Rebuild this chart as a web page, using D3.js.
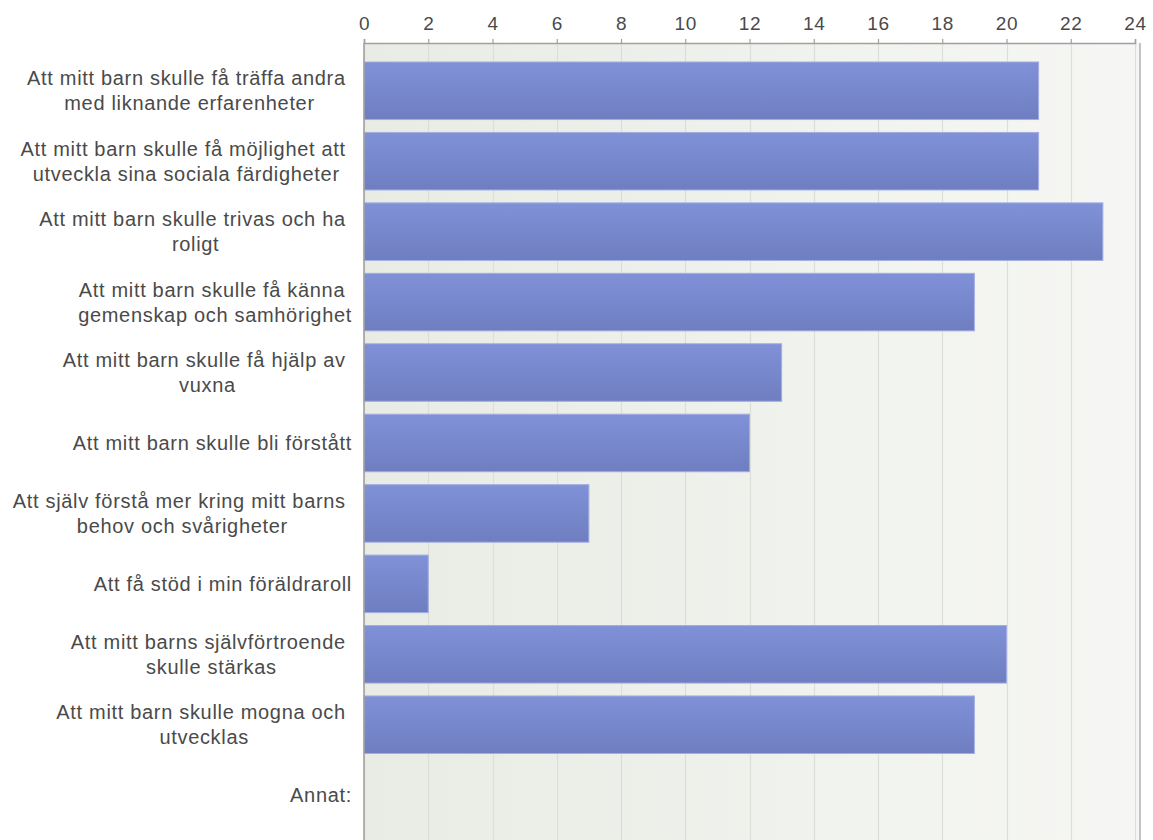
<!DOCTYPE html>
<html>
<head>
<meta charset="utf-8">
<script src="https://cdn.jsdelivr.net/npm/d3@7"></script>
<style>
  body { margin: 0; background: #fff; }
  text { font-family: "Liberation Sans", Arial, sans-serif; fill: #4a4a4a; }
</style>
</head>
<body>
<div id="chart"></div>
<script>

// categories, "\n" marks where the original label wraps
var categories = [
  "Att mitt barn skulle få träffa andra\nmed liknande erfarenheter",
  "Att mitt barn skulle få möjlighet att\nutveckla sina sociala färdigheter",
  "Att mitt barn skulle trivas och ha\nroligt",
  "Att mitt barn skulle få känna\ngemenskap och samhörighet",
  "Att mitt barn skulle få hjälp av\nvuxna",
  "Att mitt barn skulle bli förstått",
  "Att själv förstå mer kring mitt barns\nbehov och svårigheter",
  "Att få stöd i min föräldraroll",
  "Att mitt barns självförtroende\nskulle stärkas",
  "Att mitt barn skulle mogna och\nutvecklas",
  "Annat:"
]
var counts = [21, 21, 23, 19, 13, 12, 7, 2, 20, 19, 0]
var tickValues = [0, 2, 4, 6, 8, 10, 12, 14, 16, 18, 20, 22, 24]

var width = 1153
    height = 840
    plotLeft = 364
    plotRight = 1140
    plotTop = 43
    plotBottom = 850

var svg = d3.select("#chart")
  .append("svg")
    .attr("width", width)
    .attr("height", height)

var defs = svg.append("defs")

var bg = defs.append("linearGradient").attr("id", "bg")
  .attr("x1", 0).attr("x2", 1).attr("y1", 0).attr("y2", 0)
bg.append("stop").attr("offset", "0%").attr("stop-color", "#e8ece4")
bg.append("stop").attr("offset", "100%").attr("stop-color", "#f6f7f4")

var barGrad = defs.append("linearGradient").attr("id", "bar")
  .attr("x1", 0).attr("x2", 0).attr("y1", 0).attr("y2", 1)
barGrad.append("stop").attr("offset", "0%").attr("stop-color", "#8191d8")
barGrad.append("stop").attr("offset", "100%").attr("stop-color", "#6e7ec0")

var x = d3.scaleLinear()
  .domain([0, 24])
  .range([plotLeft, 1135])

var y = d3.scaleBand()
  .domain(categories)
  .range([55.55, 830.4])
  .paddingInner(0.183)
  .paddingOuter(0.0915)

// plot background
svg.append("rect")
  .attr("x", plotLeft)
  .attr("y", plotTop)
  .attr("width", plotRight - plotLeft)
  .attr("height", plotBottom - plotTop)
  .attr("fill", "url(#bg)")

// vertical grid
svg.append("g")
  .selectAll("line")
  .data(tickValues)
  .enter()
  .append("line")
    .attr("x1", function(d){ return Math.round(x(d)) + 0.5 })
    .attr("x2", function(d){ return Math.round(x(d)) + 0.5 })
    .attr("y1", plotTop)
    .attr("y2", plotBottom)
    .attr("stroke", "#dcdfd8")
    .attr("stroke-width", 1.2)

// bars
svg.append("g")
  .selectAll("rect")
  .data(counts)
  .enter()
  .append("rect")
    .attr("x", x(0))
    .attr("y", function(d, i){ return y(categories[i]) })
    .attr("width", function(d){ return x(d) - x(0) })
    .attr("height", y.bandwidth())
    .attr("fill", "url(#bar)")
    .attr("stroke", "#a3ade3")
    .attr("stroke-width", 1)
    .style("display", function(d){ return d > 0 ? null : "none" })

// top axis
var axis = svg.append("g")
  .attr("transform", "translate(0," + plotTop + ")")
  .call(d3.axisTop(x).tickValues(tickValues).tickSize(4).tickPadding(9))

axis.select(".domain")
  .attr("stroke", "#a0a0a0")
  .attr("stroke-width", 1.6)
axis.selectAll(".tick line")
  .attr("stroke", "#a0a0a0")
  .attr("stroke-width", 1.2)
axis.selectAll(".tick text")
  .attr("fill", "#4a4a4a")
  .style("font-size", "19px")
  .style("letter-spacing", "0.6px")
  .style("font-family", "'Liberation Sans', Arial, sans-serif")

// left and right border
svg.append("line")
  .attr("x1", plotLeft).attr("x2", plotLeft)
  .attr("y1", plotTop).attr("y2", plotBottom)
  .attr("stroke", "#a0a0a0")
  .attr("stroke-width", 1.6)
svg.append("line")
  .attr("x1", plotRight).attr("x2", plotRight)
  .attr("y1", plotTop).attr("y2", plotBottom)
  .attr("stroke", "#b4b4b4")
  .attr("stroke-width", 1.6)

// category labels: lines centred in a block that is right aligned
var labelRight = 352
    lineHeight = 25

var labels = svg.append("g")
  .selectAll("text")
  .data(categories)
  .enter()
  .append("text")
    .style("font-size", "20px")
    .style("letter-spacing", "0.68px")
    .style("white-space", "pre")
    .attr("text-anchor", "middle")

labels.each(function(d) {
  var t = d3.select(this)
  var lines = d.split("\n")
  var mid = y(d) + y.bandwidth() / 2
  var first = mid - (lines.length - 1) * lineHeight / 2 + 7
  lines.forEach(function(line, j) {
    t.append("tspan")
      .attr("y", first + j * lineHeight)
      .text(j < lines.length - 1 ? line + " " : line)
  })
  var widest = d3.max(t.selectAll("tspan").nodes(), function(n){ return n.getComputedTextLength() })
  t.selectAll("tspan").attr("x", labelRight - widest / 2)
})

</script>
</body>
</html>
